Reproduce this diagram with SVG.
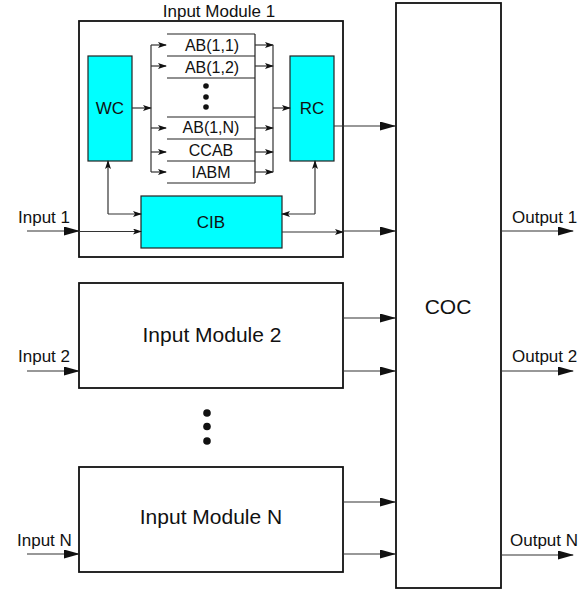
<svg xmlns="http://www.w3.org/2000/svg" width="584" height="591" viewBox="0 0 584 591">
<style>
text{font-family:"Liberation Sans",Arial,sans-serif;fill:#111}
.box{fill:#fff;stroke:#111;stroke-width:1.8}
.cy{fill:#00ffff;stroke:#222;stroke-width:1.2}
.ln{fill:none;stroke:#333;stroke-width:1.2}
.sm{font-size:16px}
.md{font-size:17px}
.lg{font-size:21px}
.big{marker-end:url(#ab)}
.sml{marker-end:url(#as)}
</style>
<defs>
<marker id="ab" markerUnits="userSpaceOnUse" markerWidth="16" markerHeight="9" refX="15" refY="4.5" orient="auto-start-reverse"><path d="M0,0 L16,4.5 L0,9 z" fill="#111"/></marker>
<marker id="as" markerUnits="userSpaceOnUse" markerWidth="9" markerHeight="6" refX="8" refY="3" orient="auto-start-reverse"><path d="M0,0 L9,3 L0,6 L2,3 z" fill="#111"/></marker>
</defs>
<g id="module1">
<rect class="box" x="79" y="21" width="264" height="236"/>
<text class="md" x="219" y="17" text-anchor="middle">Input Module 1</text>
</g>
<g id="wc"><rect class="cy" x="88" y="56" width="44" height="105"/><text class="md" x="110" y="114" text-anchor="middle">WC</text></g>
<g id="rc"><rect class="cy" x="290" y="56" width="44" height="105"/><text class="md" x="312" y="114" text-anchor="middle">RC</text></g>
<g id="cib"><rect class="cy" x="141" y="196" width="141" height="52"/><text class="md" x="211" y="228" text-anchor="middle">CIB</text></g>
<g id="ab-stack">
<path class="ln" d="M167,34H255M167,56H255M167,78H255M167,117H255M167,139H255M167,161H255M167,183H255M255,34V183" style="stroke:#222"/>
<text class="sm" x="212" y="51" text-anchor="middle">AB(1,1)</text>
<text class="sm" x="212" y="73" text-anchor="middle">AB(1,2)</text>
<circle cx="206" cy="86" r="2.8" fill="#111"/><circle cx="206" cy="97" r="2.8" fill="#111"/><circle cx="206" cy="107" r="2.8" fill="#111"/>
<text class="sm" x="211" y="133" text-anchor="middle">AB(1,N)</text>
<text class="sm" x="211" y="156" text-anchor="middle">CCAB</text>
<text class="sm" x="211" y="178" text-anchor="middle">IABM</text>
</g>
<g id="module2"><rect class="box" x="79" y="283" width="264" height="105"/><text class="lg" x="212" y="342" text-anchor="middle">Input Module 2</text></g>
<g id="dots"><circle cx="207" cy="413" r="3.8" fill="#111"/><circle cx="207" cy="426.5" r="3.8" fill="#111"/><circle cx="207" cy="441" r="3.8" fill="#111"/></g>
<g id="moduleN"><rect class="box" x="79" y="467" width="264" height="105"/><text class="lg" x="211" y="524" text-anchor="middle">Input Module N</text></g>
<g id="coc"><rect class="box" x="396" y="3" width="105" height="585"/><text class="lg" x="448" y="314" text-anchor="middle">COC</text></g>
<g id="labels">
<text class="md" x="18" y="223">Input 1</text>
<text class="md" x="18" y="362">Input 2</text>
<text class="md" x="17" y="546">Input N</text>
<text class="md" x="512" y="223">Output 1</text>
<text class="md" x="512" y="362">Output 2</text>
<text class="md" x="510" y="546">Output N</text>
</g>
<g id="connectors">
<path class="ln sml" d="M132,108H151"/>
<path class="ln" d="M151,45V172"/>
<path class="ln sml" d="M151,45H166"/>
<path class="ln sml" d="M151,66H166"/>
<path class="ln sml" d="M151,128H166"/>
<path class="ln sml" d="M151,152H166"/>
<path class="ln sml" d="M151,172H166"/>
<path class="ln sml" d="M255,45H273"/>
<path class="ln sml" d="M255,66H273"/>
<path class="ln sml" d="M255,128H273"/>
<path class="ln sml" d="M255,152H273"/>
<path class="ln sml" d="M255,172H273"/>
<path class="ln" d="M273,45V172"/>
<path class="ln sml" d="M273,108H290"/>
<path class="ln big" d="M334,126H395"/>
<path class="ln sml" d="M108,214V161" style="marker-start:none"/>
<path class="ln sml" d="M108,214H141"/>
<path class="ln sml" d="M315,214V161"/>
<path class="ln sml" d="M315,214H282"/>
<path class="ln big" d="M27,231H79"/>
<path class="ln sml" d="M79,231.5H141"/>
<path class="ln sml" d="M282,232H343"/>
<path class="ln big" d="M343,231H395"/>
<path class="ln big" d="M501,231H573"/>
<path class="ln big" d="M343,318H395"/>
<path class="ln big" d="M343,371H395"/>
<path class="ln big" d="M27,371H79"/>
<path class="ln big" d="M501,371H573"/>
<path class="ln big" d="M343,502H395"/>
<path class="ln big" d="M343,554H395"/>
<path class="ln big" d="M27,554H79"/>
<path class="ln big" d="M501,555H573"/>
</g>
</svg>
